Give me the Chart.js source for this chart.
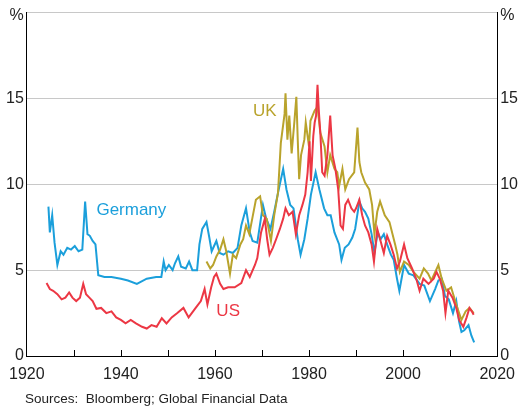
<!DOCTYPE html>
<html lang="en">
<head>
    <meta charset="UTF-8">
    <title>Bond yields</title>
    <script src="https://cdn.jsdelivr.net/npm/chart.js@4.4.0/dist/chart.umd.min.js"></script>
    <style>
        html, body { margin: 0; padding: 0; background: #fff; }
        #wrap { width: 524px; height: 410px; }
    </style>
</head>
<body>
    <div id="wrap"><canvas id="myChart"></canvas></div>

    <script>
        // values (year, per cent)
        var usYears = [1924.2,1924.9,1925.6,1926.5,1927.4,1928.2,1929.0,1929.7,1930.5,1931.3,1932.0,1932.6,1933.3,1934.0,1934.8,1935.8,1936.9,1938.0,1939.0,1940.0,1941.0,1942.1,1943.2,1944.5,1945.5,1946.5,1947.6,1948.7,1949.7,1950.8,1952.0,1953.3,1954.4,1955.9,1957.0,1957.8,1958.4,1959.2,1959.8,1960.3,1961.1,1961.8,1962.8,1964.2,1965.6,1966.6,1967.4,1968.5,1969.0,1969.8,1970.6,1971.1,1971.6,1972.3,1973.0,1973.8,1974.5,1975.0,1975.7,1976.5,1977.2,1977.9,1978.6,1979.2,1979.7,1980.1,1980.4,1980.9,1981.2,1981.5,1981.8,1982.1,1982.4,1982.8,1983.3,1983.9,1984.5,1985.0,1985.6,1986.2,1986.7,1987.2,1987.7,1988.3,1989.0,1989.6,1990.0,1990.7,1991.3,1991.9,1992.6,1993.3,1993.8,1994.5,1995.1,1995.9,1996.6,1997.3,1998.0,1998.7,1999.3,2000.2,2000.9,2001.9,2002.9,2003.5,2004.3,2005.4,2006.5,2007.1,2007.8,2008.5,2009.0,2009.6,2010.5,2011.3,2011.9,2012.8,2013.5,2014.1,2014.6,2015.0];
        var usValues = [4.25,3.9,3.8,3.6,3.3,3.4,3.7,3.4,3.2,3.4,4.2,3.6,3.4,3.2,2.75,2.8,2.5,2.6,2.25,2.1,1.9,2.1,1.9,1.7,1.6,1.8,1.7,2.2,1.9,2.25,2.5,2.8,2.25,2.8,3.2,3.9,3.0,4.0,4.6,4.8,4.2,3.9,4.0,4.0,4.25,5.0,4.6,5.3,5.7,7.2,8.0,6.8,5.9,6.3,6.8,7.4,8.0,8.6,8.2,8.4,7.1,8.2,8.8,9.4,10.7,12.5,10.2,12.8,13.6,14.0,15.8,14.2,13.0,10.7,10.5,11.7,14.0,11.7,10.9,9.7,7.6,7.4,8.8,9.1,8.6,8.4,8.6,9.1,8.2,7.6,7.2,6.5,5.5,7.4,6.8,6.0,7.0,6.5,5.9,5.1,5.5,6.5,5.7,5.1,4.4,3.8,4.5,4.2,4.5,4.9,4.5,3.8,2.5,3.8,3.4,2.8,2.1,1.7,2.25,2.8,2.6,2.4];

        var ukYears = [1958.2,1959.0,1959.6,1960.3,1961.1,1961.8,1962.4,1963.2,1963.8,1964.5,1965.4,1966.0,1966.6,1967.3,1968.0,1968.7,1969.6,1970.2,1971.0,1971.9,1972.6,1973.4,1974.0,1974.8,1975.0,1975.4,1975.8,1976.3,1976.9,1977.3,1977.6,1977.9,1978.3,1979.0,1979.3,1980.0,1980.3,1981.2,1981.8,1982.4,1983.3,1983.9,1984.5,1985.4,1986.0,1986.4,1987.1,1987.7,1988.5,1989.6,1990.3,1990.7,1991.1,1991.9,1992.8,1993.4,1993.9,1994.5,1995.1,1996.1,1997.1,1998.3,1998.8,1999.3,2000.2,2001.2,2002.2,2003.5,2004.4,2005.3,2006.0,2007.5,2008.2,2009.2,2010.2,2011.3,2012.4,2013.3,2014.1,2015.0];
        var ukValues = [5.5,5.1,5.3,5.8,6.2,6.8,6.1,4.8,5.9,5.7,6.5,6.8,7.6,7.1,8.1,9.1,9.3,8.2,8.0,6.7,8.2,9.5,12.4,14.1,15.3,12.6,14.0,11.8,13.7,15.1,12.6,10.3,11.7,12.6,13.6,12.2,13.7,14.3,14.5,13.0,12.2,10.7,11.7,10.9,10.7,9.9,10.9,9.7,10.3,10.7,13.3,11.3,10.7,10.1,9.7,8.8,7.1,8.4,9.0,8.2,7.8,6.5,5.9,4.9,5.5,5.3,4.9,4.5,5.1,4.8,4.4,5.3,4.5,3.8,4.0,3.0,2.1,2.6,2.8,2.5];

        var deYears = [1924.6,1924.9,1925.4,1925.9,1926.5,1927.2,1927.8,1928.6,1929.4,1930.2,1931.0,1931.8,1932.4,1932.9,1933.4,1934.0,1934.6,1935.2,1936.5,1938.0,1940.0,1941.5,1943.4,1945.5,1947.5,1948.6,1949.1,1949.5,1950.2,1951.0,1951.5,1952.2,1952.8,1953.8,1954.5,1955.2,1956.2,1956.7,1957.3,1958.2,1958.8,1959.3,1960.3,1961.0,1961.8,1962.8,1963.8,1964.8,1965.6,1966.6,1967.4,1968.0,1969.0,1970.2,1970.9,1971.8,1972.6,1973.4,1974.5,1975.2,1976.0,1976.7,1977.6,1978.2,1979.0,1979.7,1980.4,1981.4,1982.2,1983.2,1983.9,1984.6,1985.4,1986.4,1986.9,1987.6,1988.4,1989.2,1989.8,1990.7,1991.3,1991.9,1992.6,1993.3,1993.9,1994.6,1995.2,1995.9,1996.6,1997.4,1998.0,1998.7,1999.2,2000.2,2001.2,2002.2,2003.5,2004.5,2005.7,2006.8,2007.5,2008.2,2008.9,2009.7,2010.6,2011.3,2011.9,2012.4,2013.0,2013.9,2014.5,2015.1];
        var deValues = [8.7,7.2,8.2,6.6,5.3,6.1,5.9,6.3,6.2,6.4,6.1,6.2,9.0,7.1,7.0,6.7,6.5,4.7,4.6,4.6,4.5,4.4,4.2,4.5,4.6,4.6,5.5,5.0,5.3,5.0,5.4,5.8,5.2,5.1,5.5,5.0,5.0,6.5,7.4,7.8,6.9,6.1,6.7,6.0,5.9,6.1,6.0,6.3,7.6,8.6,7.2,6.7,6.6,8.8,8.0,7.4,8.4,9.5,10.9,9.7,8.8,8.6,6.8,5.9,6.8,8.0,9.4,10.7,9.7,8.6,8.2,8.2,7.2,6.5,5.6,6.3,6.5,6.9,7.4,9.0,8.6,8.4,8.0,7.1,6.0,7.2,6.8,7.1,6.5,5.9,5.6,4.5,3.8,5.3,4.8,4.7,4.2,4.1,3.2,3.9,4.4,4.5,3.5,3.3,2.5,3.2,2.0,1.4,1.5,1.8,1.2,0.8];

        var yTicks = [0, 5, 10, 15, 20];
        var xLabelYears = [1920, 1940, 1960, 1980, 2000, 2020];
        var xMinorYears = [1930, 1940, 1950, 1960, 1970, 1980, 1990, 2000, 2010];

        var blue = '#1b9fdb';
        var red = '#ec3744';
        var olive = '#b9a32c';
        var fontName = "'Liberation Sans', Arial, sans-serif";

        function toPoints(xs, ys) {
            var pts = [];
            for (var i = 0; i < xs.length; i++) {
                pts.push({ x: xs[i], y: ys[i] });
            }
            return pts;
        }

        // labels, unit signs, source line and inward ticks
        var extras = {
            id: 'extras',
            afterDraw: function (chart) {
                var c = chart.ctx;
                var xs = chart.scales.x;
                var ys = chart.scales.y;
                var area = chart.chartArea;
                c.save();

                c.strokeStyle = '#000';
                c.lineWidth = 1;
                xMinorYears.forEach(function (yr) {
                    var px = Math.round(xs.getPixelForValue(yr)) + 0.5;
                    c.beginPath();
                    c.moveTo(px, area.bottom);
                    c.lineTo(px, area.bottom - 6);
                    c.stroke();
                });

                c.fillStyle = '#222';
                c.font = '16px ' + fontName;
                c.textBaseline = 'alphabetic';
                c.textAlign = 'right';
                c.fillText('%', area.left - 3, 20);
                c.textAlign = 'left';
                c.fillText('%', area.right + 3, 20);

                c.font = '17px ' + fontName;
                c.fillStyle = blue;
                c.fillText('Germany', xs.getPixelForValue(1934.8), ys.getPixelForValue(8.2));
                c.fillStyle = olive;
                c.fillText('UK', xs.getPixelForValue(1968.1), ys.getPixelForValue(14.0));
                c.fillStyle = red;
                c.fillText('US', xs.getPixelForValue(1960.3), ys.getPixelForValue(2.35));

                c.fillStyle = '#222';
                c.font = '13.5px ' + fontName;
                c.fillText('Sources:  Bloomberg; Global Financial Data', 25, 403);
                c.restore();
            }
        };

        var ctx = document.getElementById('myChart').getContext('2d');
        var myLineChart = new Chart(ctx, {
            type: 'line',
            data: {
                datasets: [{
                    label: 'US',
                    data: toPoints(usYears, usValues),
                    borderColor: red,
                    borderWidth: 2,
                    pointRadius: 0,
                    fill: false
                }, {
                    label: 'UK',
                    data: toPoints(ukYears, ukValues),
                    borderColor: olive,
                    borderWidth: 2,
                    pointRadius: 0,
                    fill: false
                }, {
                    label: 'Germany',
                    data: toPoints(deYears, deValues),
                    borderColor: blue,
                    borderWidth: 2,
                    pointRadius: 0,
                    fill: false
                }]
            },
            options: {
                responsive: true,
                maintainAspectRatio: false,
                animation: false,
                layout: { padding: { top: 6, left: 0, right: 0, bottom: 0 } },
                plugins: {
                    legend: { display: false },
                    tooltip: { enabled: false }
                },
                scales: {
                    x: {
                        type: 'linear',
                        min: 1920,
                        max: 2020,
                        afterBuildTicks: function (s) {
                            s.ticks = xLabelYears.map(function (v) { return { value: v }; });
                        },
                        afterFit: function (s) { s.height = 54; },
                        grid: { display: false, drawTicks: false },
                        border: { display: true, color: '#000', width: 1 },
                        ticks: {
                            padding: 9,
                            color: '#222',
                            font: { family: fontName, size: 16 },
                            maxRotation: 0,
                            callback: function (v) { return String(v); }
                        }
                    },
                    y: {
                        position: 'left',
                        min: 0,
                        max: 20,
                        afterBuildTicks: function (s) {
                            s.ticks = yTicks.map(function (v) { return { value: v }; });
                        },
                        afterFit: function (s) { s.width = 26; },
                        grid: { color: '#c8c8c8', lineWidth: 1, drawTicks: false },
                        border: { display: true, color: '#000', width: 1 },
                        ticks: {
                            padding: 3,
                            color: '#222',
                            font: { family: fontName, size: 16 },
                            callback: function (v) { return v === 20 ? '' : String(v); }
                        }
                    },
                    y2: {
                        position: 'right',
                        min: 0,
                        max: 20,
                        afterBuildTicks: function (s) {
                            s.ticks = yTicks.map(function (v) { return { value: v }; });
                        },
                        afterFit: function (s) { s.width = 23; },
                        grid: { display: false, drawTicks: false },
                        border: { display: true, color: '#000', width: 1 },
                        ticks: {
                            padding: 3,
                            color: '#222',
                            font: { family: fontName, size: 16 },
                            callback: function (v) { return v === 20 ? '' : String(v); }
                        }
                    }
                }
            },
            plugins: [extras]
        });
    </script>
</body>
</html>
